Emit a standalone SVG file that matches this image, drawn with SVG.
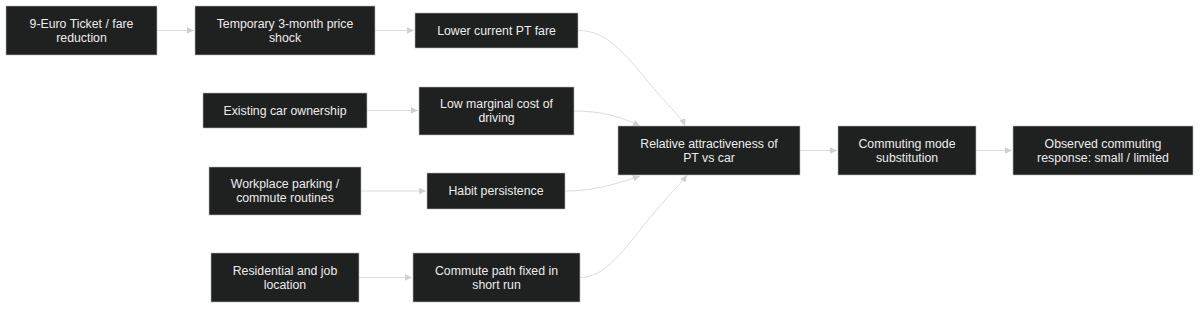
<svg xmlns="http://www.w3.org/2000/svg" width="1200" height="309" viewBox="0 0 1200 309">
<style>
.node rect{fill:#1f2020;stroke:#b8b8b8;stroke-width:0.6}
.node text{fill:#ececec;font-family:"Liberation Sans",Arial,sans-serif;font-size:12.3px;text-anchor:middle}
.edge{fill:none;stroke:#dcdcdc;stroke-width:1}
</style>
<defs>
<marker id="arr" markerUnits="userSpaceOnUse" markerWidth="8" markerHeight="8" refX="7" refY="4" orient="auto">
<path d="M0,0.8 L7,4 L0,7.2 Z" fill="#d0d0d0"/>
</marker>
</defs>
<rect width="1200" height="309" fill="#ffffff"/>
<g id="connectors">
<path class="edge" d="M157,30.5 L194,30.5" marker-end="url(#arr)"/>
<path class="edge" d="M375,30.5 L414,30.5" marker-end="url(#arr)"/>
<path class="edge" d="M367,110.5 L418,110.5" marker-end="url(#arr)"/>
<path class="edge" d="M361,191 L426,191" marker-end="url(#arr)"/>
<path class="edge" d="M359,277.5 L412,277.5" marker-end="url(#arr)"/>
<path class="edge" d="M800,150.5 L837,150.5" marker-end="url(#arr)"/>
<path class="edge" d="M976,150.5 L1012,150.5" marker-end="url(#arr)"/>
<path class="edge" d="M578,30.5 C602,30.5 618,44 650,84 C670,108 682,118 685,126" marker-end="url(#arr)"/>
<path class="edge" d="M574,111 C600,111 620,116 640,126" marker-end="url(#arr)"/>
<path class="edge" d="M565,191 C595,191 615,184 640,176" marker-end="url(#arr)"/>
<path class="edge" d="M580,277.5 C600,277.5 615,262 640,230 C665,198 680,185 687,175" marker-end="url(#arr)"/>
</g>
<g id="n1" class="node"><rect x="6" y="6" width="151" height="49"/><text x="81.5" y="27.9">9-Euro Ticket / fare</text><text x="81.5" y="41.9">reduction</text></g>
<g id="n2" class="node"><rect x="195" y="6" width="180" height="49"/><text x="285" y="27.9">Temporary 3-month price</text><text x="285" y="41.9">shock</text></g>
<g id="n3" class="node"><rect x="415" y="13" width="163" height="35"/><text x="496.5" y="34.9">Lower current PT fare</text></g>
<g id="n4" class="node"><rect x="203" y="93" width="164" height="35"/><text x="285" y="114.9">Existing car ownership</text></g>
<g id="n5" class="node"><rect x="419" y="87" width="155" height="48"/><text x="496.5" y="108.4">Low marginal cost of</text><text x="496.5" y="122.4">driving</text></g>
<g id="n6" class="node"><rect x="209" y="167" width="152" height="48"/><text x="285" y="188.4">Workplace parking /</text><text x="285" y="202.4">commute routines</text></g>
<g id="n7" class="node"><rect x="427" y="173" width="138" height="36"/><text x="496" y="195.4">Habit persistence</text></g>
<g id="n8" class="node"><rect x="211" y="253" width="148" height="49"/><text x="285" y="274.9">Residential and job</text><text x="285" y="288.9">location</text></g>
<g id="n9" class="node"><rect x="413" y="253" width="167" height="49"/><text x="496.5" y="274.9">Commute path fixed in</text><text x="496.5" y="288.9">short run</text></g>
<g id="n10" class="node"><rect x="618" y="126" width="182" height="49"/><text x="709" y="147.9">Relative attractiveness of</text><text x="709" y="161.9">PT vs car</text></g>
<g id="n11" class="node"><rect x="838" y="126" width="138" height="49"/><text x="907" y="147.9">Commuting mode</text><text x="907" y="161.9">substitution</text></g>
<g id="n12" class="node"><rect x="1013" y="126" width="180" height="49"/><text x="1103" y="147.9">Observed commuting</text><text x="1103" y="161.9">response: small / limited</text></g>
</svg>
